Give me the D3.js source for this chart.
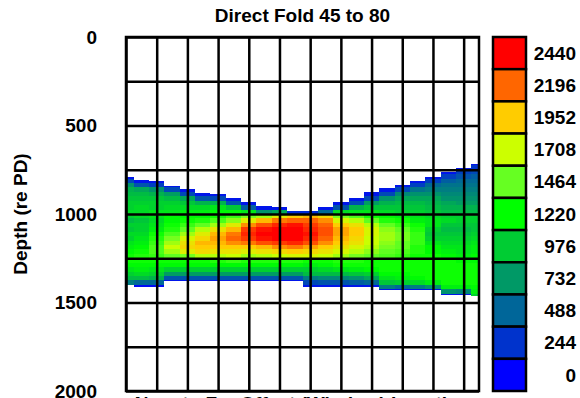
<!DOCTYPE html>
<html lang='en'>
<head>
  <meta charset='UTF-8'>
  <title>Direct Fold 45 to 80</title>
  <style>
  body {
    margin: 0;
    background: white;
  }
  text {
    font-family: 'Liberation Sans', Arial, Helvetica, sans-serif;
    font-weight: bold;
    font-size: 19px;
    fill: black;
  }
  .grid line, .frame {
    stroke: black;
    stroke-width: 2.5px;
  }
  .grid path {
    display: none;
  }
  .axis path, .axis line {
    display: none;
  }
  .cell {
    shape-rendering: crispEdges;
  }
  .key rect {
    stroke: black;
    stroke-width: 2.5px;
  }
  </style>
  <script src='https://d3js.org/d3.v7.min.js'></script>
</head>
<body>
  <script>

  // depth labels and grid
  var depthTicks = [0, 500, 1000, 1500, 2000];
  var gridDepths = [0, 250, 500, 750, 1000, 1250, 1500, 1750, 2000];
  var gridTraces = [0, 2, 4, 6, 8, 10, 12, 14, 16, 18, 20, 22];

  // colour key
  var keyLevels = [0, 244, 488, 732, 976, 1220, 1464, 1708, 1952, 2196, 2440];
  var keyColors = ['#0000ff', '#0033cc', '#006699', '#009966', '#00cc33', '#00ff00',
                   '#66ff22', '#ccff00', '#ffcc00', '#ff6600', '#ff0000'];

  // start depth of each 25-deep sample row
  var rowDepths = [700, 725, 750, 775, 800, 825, 850, 875, 900, 925, 950, 975, 1000, 1025, 1050, 1075,
                   1100, 1125, 1150, 1175, 1200, 1225, 1250, 1275, 1300, 1325, 1350, 1375, 1400, 1425, 1450];

  // top and bottom of the data for each trace
  var topDepth = [790, 810, 815, 840, 860, 880, 885, 910, 930, 955, 960, 985,
                  985, 960, 930, 910, 875, 855, 835, 815, 790, 765, 740, 715];
  var bottomDepth = [1400, 1410, 1410, 1380, 1380, 1380, 1380, 1380, 1380, 1380, 1380, 1380,
                     1410, 1410, 1410, 1410, 1410, 1430, 1430, 1430, 1430, 1455, 1455, 1465];

  // amplitude per trace, one value per row
  var amplitude = [
    [0,0,0,100,350,700,850,900,950,1000,1000,1050,1000,900,1000,950,1050,1000,1100,1150,1200,1250,1250,1200,1100,1000,900,600,0,0,0],
    [0,0,0,0,100,400,800,900,950,1000,1050,1050,1050,950,1000,1000,1050,1100,1150,1200,1250,1300,1250,1200,1150,1050,900,500,50,0,0],
    [0,0,0,0,100,300,700,850,950,1000,1000,1100,1100,1050,1100,1150,1250,1300,1350,1400,1400,1350,1250,1200,1100,1000,850,500,50,0,0],
    [0,0,0,0,0,100,350,750,900,1000,1050,1100,1200,1200,1250,1300,1400,1500,1600,1700,1600,1450,1250,1200,1000,750,400,100,0,0,0],
    [0,0,0,0,0,0,100,350,800,950,1050,1150,1200,1250,1350,1450,1600,1750,1850,1900,1800,1500,1250,1200,1000,750,400,100,0,0,0],
    [0,0,0,0,0,0,0,100,400,850,1050,1150,1200,1300,1450,1650,1800,1900,2000,1950,1900,1650,1250,1200,1000,750,400,100,0,0,0],
    [0,0,0,0,0,0,0,100,350,850,1100,1200,1250,1400,1600,1850,2000,2050,2000,1950,1850,1650,1300,1200,1000,750,400,100,0,0,0],
    [0,0,0,0,0,0,0,0,100,400,950,1200,1350,1550,1800,2000,2150,2200,2100,1950,1850,1700,1350,1200,1000,750,400,100,0,0,0],
    [0,0,0,0,0,0,0,0,0,100,450,1100,1500,1800,2100,2300,2350,2300,2150,1950,1800,1600,1300,1200,1000,750,400,100,0,0,0],
    [0,0,0,0,0,0,0,0,0,0,100,700,1600,2000,2250,2400,2440,2400,2250,2000,1850,1650,1300,1200,1000,750,400,100,0,0,0],
    [0,0,0,0,0,0,0,0,0,0,100,800,1800,2150,2350,2440,2440,2440,2300,2100,1900,1700,1300,1200,1000,750,400,100,0,0,0],
    [0,0,0,0,0,0,0,0,0,0,0,200,1950,2200,2400,2440,2440,2440,2350,2150,1950,1750,1300,1200,1000,750,400,100,0,0,0],
    [0,0,0,0,0,0,0,0,0,0,0,200,2000,2200,2300,2350,2400,2350,2250,2050,1900,1750,1250,1150,1000,900,600,350,100,0,0],
    [0,0,0,0,0,0,0,0,0,0,100,500,1900,2100,2200,2250,2250,2200,2100,1950,1850,1700,1250,1200,1050,900,650,400,100,0,0],
    [0,0,0,0,0,0,0,0,0,100,400,1050,1500,1750,1950,2050,2050,2000,1950,1850,1750,1600,1300,1250,1100,900,650,400,100,0,0],
    [0,0,0,0,0,0,0,0,100,350,850,1100,1400,1650,1850,1950,1950,1900,1850,1750,1650,1500,1300,1250,1150,950,700,450,100,0,0],
    [0,0,0,0,0,0,0,100,350,750,950,1100,1250,1450,1650,1750,1750,1700,1700,1650,1550,1450,1250,1250,1200,1000,800,500,100,0,0],
    [0,0,0,0,0,0,100,350,700,850,950,1050,1200,1300,1450,1550,1600,1600,1550,1500,1450,1400,1250,1250,1250,1200,1100,950,600,100,0],
    [0,0,0,0,0,100,350,650,800,900,950,1000,1150,1250,1350,1450,1500,1500,1450,1450,1400,1350,1250,1250,1250,1200,1150,1000,500,100,0],
    [0,0,0,0,100,300,550,700,800,900,950,1000,1100,1150,1250,1300,1350,1350,1350,1300,1300,1250,1250,1250,1250,1250,1200,1050,600,100,0],
    [0,0,0,100,300,500,600,700,800,850,900,950,1050,1100,1100,1000,950,1000,1100,1200,1200,1250,1250,1250,1250,1250,1250,1150,700,100,0],
    [0,0,100,300,450,550,600,650,700,800,850,900,1000,1050,950,900,950,1000,1050,1100,1150,1200,1250,1250,1250,1250,1250,1250,1150,700,100],
    [0,100,300,400,500,550,600,650,700,750,850,900,1000,1000,950,900,950,1000,1050,1100,1100,1150,1200,1250,1250,1250,1250,1250,1150,650,100],
    [100,250,350,450,500,550,600,650,700,750,850,900,1000,1000,950,950,1000,1050,1100,1150,1150,1200,1200,1250,1250,1250,1250,1250,1200,1150,1000]
  ];

  var rowStep = 25;

  var svgWidth = 580;
  var svgHeight = 398;
  var margin = { top: 37, right: 101, bottom: 7, left: 126 };
  var width = svgWidth - margin.left - margin.right;
  var height = svgHeight - margin.top - margin.bottom;

  var svg = d3.select('body').append('svg')
    .attr('width', svgWidth)
    .attr('height', svgHeight);

  var x = d3.scaleLinear().domain([0, 23]).range([0, width]);
  var y = d3.scaleLinear().domain([0, 2000]).range([0, height]);
  var color = d3.scaleLinear().domain(keyLevels).range(keyColors).clamp(true);

  var g = svg.append('g').attr('transform', 'translate(' + margin.left + ',' + margin.top + ')');

  g.append('clipPath').attr('id', 'plot-clip')
    .append('rect').attr('width', width).attr('height', height);

  // build cells, clipped to each trace's top and bottom

  var cells = [];
  amplitude.forEach(function (trace, i) {
    trace.forEach(function (v, r) {
      var d0 = Math.max(rowDepths[r], topDepth[i]);
      var d1 = Math.min(rowDepths[r] + rowStep, bottomDepth[i]);
      if (d1 > d0) cells.push({ trace: i, d0: d0, d1: d1, value: v });
    });
  });

  g.append('g')
    .attr('clip-path', 'url(#plot-clip)')
    .selectAll('.cell')
    .data(cells)
    .enter()
    .append('rect')
    .attr('class', 'cell')
    .attr('x', function (d) { return x(d.trace - 0.5); })
    .attr('y', function (d) { return y(d.d0); })
    .attr('width', x(1) - x(0))
    .attr('height', function (d) { return y(d.d1) - y(d.d0); })
    .attr('fill', function (d) { return color(d.value); });

  // grid

  g.append('g')
    .attr('class', 'grid')
    .call(d3.axisLeft(y).tickValues(gridDepths).tickSize(-width).tickFormat(''));

  g.append('g')
    .attr('class', 'grid')
    .attr('transform', 'translate(0,' + height + ')')
    .call(d3.axisBottom(x).tickValues(gridTraces).tickSize(-height).tickFormat(''));

  g.append('rect')
    .attr('class', 'frame')
    .attr('width', width)
    .attr('height', height)
    .attr('fill', 'none');

  // depth labels

  g.append('g')
    .attr('class', 'axis')
    .call(d3.axisLeft(y).tickValues(depthTicks).tickSize(0).tickPadding(29).tickFormat(d3.format('d')))
    .selectAll('text')
    .attr('font-size', null)
    .attr('font-family', null);

  g.append('text')
    .attr('transform', 'rotate(-90)')
    .attr('x', -height / 2)
    .attr('y', 27 - margin.left)
    .attr('text-anchor', 'middle')
    .text('Depth (re PD)');

  svg.append('text')
    .attr('x', margin.left + width / 2)
    .attr('y', 22)
    .attr('text-anchor', 'middle')
    .text('Direct Fold 45 to 80');

  svg.append('text')
    .attr('x', margin.left + width / 2)
    .attr('y', 410)
    .attr('text-anchor', 'middle')
    .text('Near to Far Offset (Window) Location');

  // colour key

  var keyOrder = keyLevels.slice().reverse();
  var keyY = d3.scaleBand().domain(keyOrder).range([margin.top, margin.top + height]);

  var key = svg.append('g').attr('class', 'key');

  key.selectAll('rect')
    .data(keyOrder)
    .enter()
    .append('rect')
    .attr('x', 493)
    .attr('y', function (d) { return keyY(d); })
    .attr('width', 33)
    .attr('height', keyY.bandwidth())
    .attr('fill', function (d) { return color(d); });

  key.selectAll('text')
    .data(keyOrder)
    .enter()
    .append('text')
    .attr('x', 576)
    .attr('y', function (d) { return keyY(d) + keyY.bandwidth() / 2; })
    .attr('dy', '0.35em')
    .attr('text-anchor', 'end')
    .text(function (d) { return d; });
  </script>
</body>
</html>
